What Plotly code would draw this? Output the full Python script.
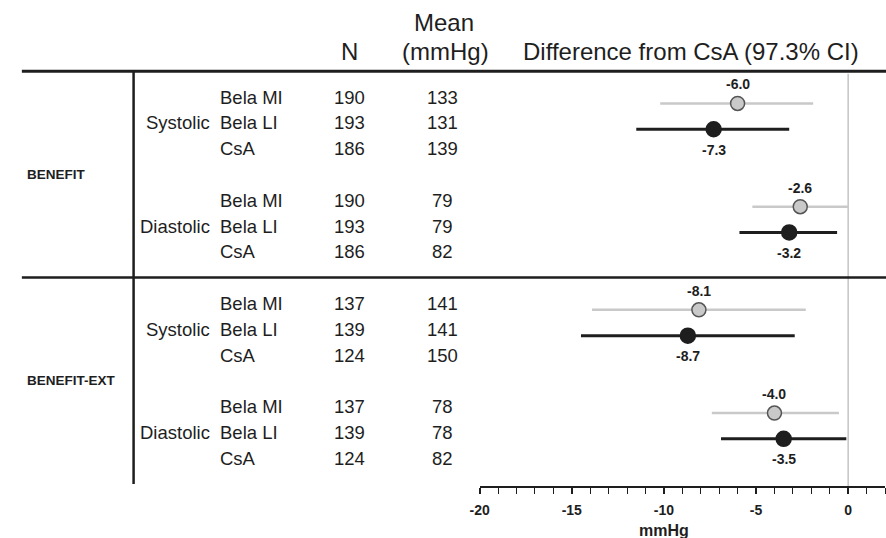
import plotly.graph_objects as go

# ---- data ---------------------------------------------------------------
studies = ["BENEFIT", "BENEFIT-EXT"]
measures = ["Systolic", "Diastolic"]
treatments = ["Bela MI", "Bela LI", "CsA"]

# N per row (study -> measure -> treatment)
n_benefit = [[190, 193, 186], [190, 193, 186]]
n_ext = [[137, 139, 124], [137, 139, 124]]
# mean blood pressure (mmHg)
mean_benefit = [[133, 131, 139], [79, 79, 82]]
mean_ext = [[141, 141, 150], [78, 78, 82]]

# difference from CsA with 97.3% CI, order: Sys MI, Sys LI, Dia MI, Dia LI
diff_benefit = [-6.0, -7.3, -2.6, -3.2]
lo_benefit = [-10.2, -11.5, -5.2, -5.9]
hi_benefit = [-1.9, -3.2, 0.0, -0.6]
diff_ext = [-8.1, -8.7, -4.0, -3.5]
lo_ext = [-13.9, -14.5, -7.4, -6.9]
hi_ext = [-2.3, -2.9, -0.5, -0.1]

x_ticks = [-20, -15, -10, -5, 0]
x_tick_labels = ["-20", "-15", "-10", "-5", "0"]

# ---- layout constants ------------------------------------------------------
W, H = 886, 538
ROW0_PX, ROW_PX = 97, 25.8          # pixel of first row and row pitch
Y_TOP = -ROW0_PX / ROW_PX
Y_BOT = (H - ROW0_PX) / ROW_PX
AXIS_PX = 487
FONT = "Liberation Sans, Arial, Helvetica, sans-serif"
INK = "#1e1e1e"
MI_COL = "#c9c9c9"
ROW_FONT = 18.5


def px(xp):
    return xp / W


def row_of(yp):
    return (yp - ROW0_PX) / ROW_PX


fig = go.Figure()
ann = []
shapes = []

study_n = [n_benefit, n_ext]
study_mean = [mean_benefit, mean_ext]
study_diff = [diff_benefit, diff_ext]
study_lo = [lo_benefit, lo_ext]
study_hi = [hi_benefit, hi_ext]

for s, study in enumerate(studies):
    base = s * 8
    ann.append(dict(x=px(15), y=base + 3, xref="paper", yref="y", text=study,
                    showarrow=False, xanchor="left", yanchor="middle",
                    font=dict(size=13.5, family=FONT, color=INK, weight="bold")))
    for m, meas in enumerate(measures):
        r0 = base + m * 4
        ann.append(dict(x=px(204), y=r0 + 1, xref="paper", yref="y", text=meas,
                        showarrow=False, xanchor="right", yanchor="middle",
                        font=dict(size=ROW_FONT, family=FONT, color=INK)))
        for t, trt in enumerate(treatments):
            r = r0 + t
            ann.append(dict(x=px(210), y=r, xref="paper", yref="y", text=trt,
                            showarrow=False, xanchor="left", yanchor="middle",
                            font=dict(size=ROW_FONT, family=FONT, color=INK)))
            ann.append(dict(x=px(343), y=r, xref="paper", yref="y",
                            text=str(study_n[s][m][t]), showarrow=False,
                            xanchor="center", yanchor="middle",
                            font=dict(size=ROW_FONT, family=FONT, color=INK)))
            ann.append(dict(x=px(437), y=r, xref="paper", yref="y",
                            text=str(study_mean[s][m][t]), showarrow=False,
                            xanchor="center", yanchor="middle",
                            font=dict(size=ROW_FONT, family=FONT, color=INK)))

        # forest rows: Bela MI (grey) and Bela LI (black)
        for t in range(2):
            k = m * 2 + t
            d, lo, hi = study_diff[s][k], study_lo[s][k], study_hi[s][k]
            yy = r0 + t + 0.25
            col = MI_COL if t == 0 else INK
            fig.add_trace(go.Scatter(
                x=[lo, hi], y=[yy, yy], mode="lines",
                line=dict(color=col, width=2.5 if t == 0 else 3),
                hoverinfo="skip", showlegend=False))
            fig.add_trace(go.Scatter(
                x=[d], y=[yy], mode="markers",
                marker=dict(size=14 if t == 0 else 15, color=col,
                            line=dict(color="#555555" if t == 0 else INK, width=1.5)),
                showlegend=False))
            ann.append(dict(x=d, y=yy + (-0.74 if t == 0 else 0.8), xref="x", yref="y",
                            text=f"{d:.1f}", showarrow=False,
                            xanchor="center", yanchor="middle",
                            font=dict(size=14, family=FONT, color=INK, weight="bold")))

# column headers
hdr = dict(size=24, family=FONT, color=INK)
ann += [
    dict(x=px(343), y=row_of(51), xref="paper", yref="y", text="N",
         showarrow=False, xanchor="center", yanchor="middle", font=hdr),
    dict(x=px(439), y=row_of(22), xref="paper", yref="y", text="Mean",
         showarrow=False, xanchor="center", yanchor="middle", font=hdr),
    dict(x=px(440), y=row_of(51), xref="paper", yref="y", text="(mmHg)",
         showarrow=False, xanchor="center", yanchor="middle", font=hdr),
    dict(x=px(689), y=row_of(51), xref="paper", yref="y",
         text="Difference from CsA (97.3% CI)",
         showarrow=False, xanchor="center", yanchor="middle", font=hdr),
    dict(x=-10, y=row_of(530), xref="x", yref="y", text="mmHg",
         showarrow=False, xanchor="center", yanchor="middle",
         font=dict(size=16, family=FONT, color=INK, weight="bold")),
]

# table rules
axis_row = row_of(AXIS_PX)
shapes += [
    dict(type="line", xref="paper", yref="y", x0=px(12), x1=1, y0=-1, y1=-1,
         line=dict(color=INK, width=3)),
    dict(type="line", xref="paper", yref="y", x0=px(12), x1=1, y0=7, y1=7,
         line=dict(color=INK, width=2.5)),
    dict(type="line", xref="paper", yref="y", x0=px(125), x1=px(125), y0=-1,
         y1=row_of(484), line=dict(color=INK, width=2.5)),
    dict(type="line", xref="x", yref="y", x0=0, x1=0, y0=-0.9, y1=axis_row,
         line=dict(color="#c4c4c4", width=1.5), layer="below"),
]

fig.update_layout(
    width=W, height=H,
    margin=dict(l=0, r=0, t=0, b=0),
    paper_bgcolor="white", plot_bgcolor="rgba(0,0,0,0)",
    annotations=ann, shapes=shapes,
    xaxis=dict(domain=[px(475), px(885)], range=[-20, 2], anchor="free",
               position=(H - AXIS_PX) / H, showgrid=False, zeroline=False,
               showline=True, linecolor=INK, linewidth=2,
               tickmode="array", tickvals=x_ticks, ticktext=x_tick_labels,
               ticks="outside", ticklen=6, tickwidth=1.5, tickcolor=INK,
               minor=dict(dtick=1, ticks="outside", ticklen=6, tickwidth=1.2,
                          tickcolor=INK, showgrid=False),
               ticklabelstandoff=4,
               tickfont=dict(size=14, family=FONT, color=INK, weight="bold")),
    yaxis=dict(domain=[0, 1], range=[Y_BOT, Y_TOP], visible=False),
)

fig.write_html("out.html")
